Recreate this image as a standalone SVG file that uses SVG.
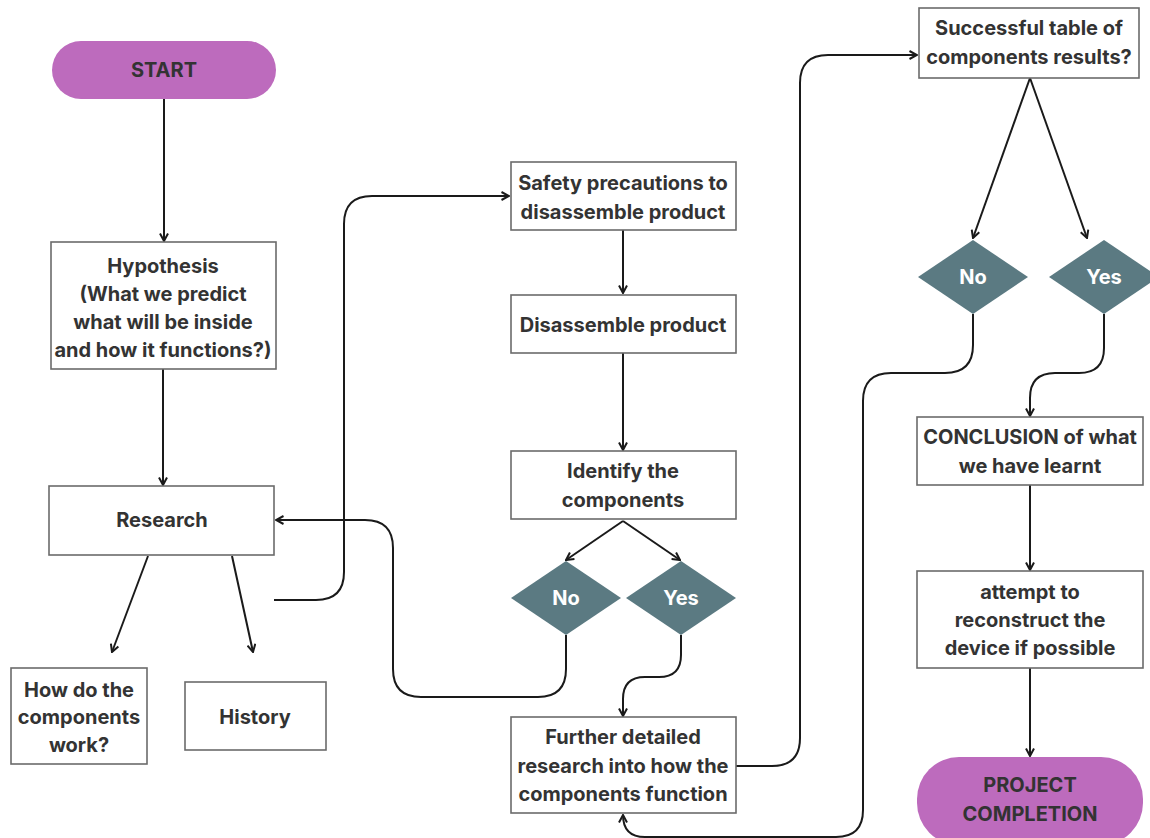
<svg xmlns="http://www.w3.org/2000/svg" width="1150" height="838" viewBox="0 0 1150 838">
<style>
.box{fill:#fff;stroke:#6b6b6b;stroke-width:1.6}
.pill{fill:#bd6bbd;stroke:none}
.dia{fill:#5b7a82;stroke:none}
.t{font-family:Inter,"Noto Sans","Liberation Sans",sans-serif;font-size:20px;font-weight:700;fill:#333;text-anchor:middle;dominant-baseline:central}
.tw{font-family:Inter,"Noto Sans","Liberation Sans",sans-serif;font-size:20px;font-weight:700;fill:#fff;text-anchor:middle;dominant-baseline:central}
.c{fill:none;stroke:#1a1a1a;stroke-width:2;marker-end:url(#arr)}
</style>
<defs>
<marker id="arr" viewBox="0 0 10 10" refX="9" refY="5" markerWidth="10" markerHeight="10" markerUnits="userSpaceOnUse" orient="auto">
<path d="M1.5,1 L9,5 L1.5,9" fill="none" stroke="#1a1a1a" stroke-width="2"/>
</marker>
</defs>
<rect width="1150" height="838" fill="#fff"/>
<g id="connectors">
<path class="c" d="M164,99 V241"/>
<path class="c" d="M163,369 V485"/>
<path class="c" d="M148,556 L112,652"/>
<path class="c" d="M232,556 L253,652"/>
<path class="c" d="M274,600 H316 Q344,600 344,572 V224 Q344,196 372,196 H509"/>
<path class="c" d="M623,230 V293"/>
<path class="c" d="M623,353 V450"/>
<path class="c" d="M623,521 L566,560"/>
<path class="c" d="M623,521 L680,560"/>
<path class="c" d="M566,635 V669 Q566,697 538,697 H421 Q393,697 393,669 V548 Q393,520 365,520 H276"/>
<path class="c" d="M681,635 V655 Q681,677 659,677 H645 Q623,677 623,699 V716"/>
<path class="c" d="M736,766 H772 Q800,766 800,738 V83 Q800,55 828,55 H917"/>
<path class="c" d="M1030,78 L973,238"/>
<path class="c" d="M1030,78 L1087,238"/>
<path class="c" d="M973,314 V345 Q973,373 945,373 H891 Q863,373 863,401 V810 Q863,837 836,837 H645 Q623,837 623,815"/>
<path class="c" d="M1104,314 V348 Q1104,373 1079,373 H1055 Q1030,373 1030,398 V416"/>
<path class="c" d="M1030,485 V570"/>
<path class="c" d="M1030,668 V756"/>
</g>
<g id="start">
<rect class="pill" x="52" y="41" width="224" height="58" rx="29"/>
<text class="t" x="164" y="70">START</text>
</g>
<g id="hypothesis">
<rect class="box" x="51" y="242" width="225" height="127"/>
<text class="t" x="163" y="266">Hypothesis</text>
<text class="t" x="163" y="294">(What we predict</text>
<text class="t" x="163" y="322">what will be inside</text>
<text class="t" x="163" y="350">and how it functions?)</text>
</g>
<g id="research">
<rect class="box" x="49" y="486" width="225" height="69"/>
<text class="t" x="162" y="520">Research</text>
</g>
<g id="how">
<rect class="box" x="11" y="668" width="136" height="96"/>
<text class="t" x="79" y="690">How do the</text>
<text class="t" x="79" y="717">components</text>
<text class="t" x="79" y="745">work?</text>
</g>
<g id="history">
<rect class="box" x="185" y="682" width="141" height="68"/>
<text class="t" x="255" y="717">History</text>
</g>
<g id="safety">
<rect class="box" x="511" y="162" width="225" height="68"/>
<text class="t" x="623" y="183">Safety precautions to</text>
<text class="t" x="623" y="212">disassemble product</text>
</g>
<g id="disassemble">
<rect class="box" x="511" y="295" width="225" height="58"/>
<text class="t" x="623" y="325">Disassemble product</text>
</g>
<g id="identify">
<rect class="box" x="511" y="451" width="225" height="68"/>
<text class="t" x="623" y="471">Identify the</text>
<text class="t" x="623" y="500">components</text>
</g>
<g id="no1">
<polygon class="dia" points="566,561 621,598 566,635 511,598"/>
<text class="tw" x="566" y="598">No</text>
</g>
<g id="yes1">
<polygon class="dia" points="681,561 736,598 681,635 626,598"/>
<text class="tw" x="681" y="598">Yes</text>
</g>
<g id="further">
<rect class="box" x="511" y="717" width="225" height="96"/>
<text class="t" x="623" y="737">Further detailed</text>
<text class="t" x="623" y="766">research into how the</text>
<text class="t" x="623" y="794">components function</text>
</g>
<g id="successful">
<rect class="box" x="919" y="8" width="220" height="70"/>
<text class="t" x="1029" y="28">Successful table of</text>
<text class="t" x="1029" y="57">components results?</text>
</g>
<g id="no2">
<polygon class="dia" points="973,240 1028,277 973,314 918,277"/>
<text class="tw" x="973" y="277">No</text>
</g>
<g id="yes2">
<polygon class="dia" points="1104,240 1159,277 1104,314 1049,277"/>
<text class="tw" x="1104" y="277">Yes</text>
</g>
<g id="conclusion">
<rect class="box" x="917" y="417" width="226" height="68"/>
<text class="t" x="1030" y="437">CONCLUSION of what</text>
<text class="t" x="1030" y="466">we have learnt</text>
</g>
<g id="attempt">
<rect class="box" x="917" y="571" width="226" height="97"/>
<text class="t" x="1030" y="592">attempt to</text>
<text class="t" x="1030" y="620">reconstruct the</text>
<text class="t" x="1030" y="648">device if possible</text>
</g>
<g id="completion">
<rect class="pill" x="917" y="757" width="226" height="88" rx="42"/>
<text class="t" x="1030" y="785">PROJECT</text>
<text class="t" x="1030" y="814">COMPLETION</text>
</g>
</svg>
